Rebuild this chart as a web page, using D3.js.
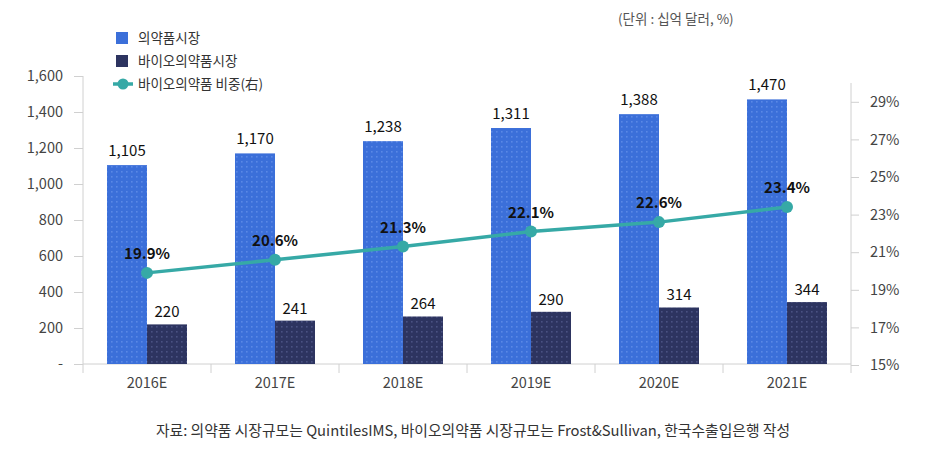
<!doctype html>
<html>
  <head>
    <meta charset="utf-8">
    <title>의약품시장 vs 바이오의약품시장</title>
    <script src="https://cdnjs.cloudflare.com/ajax/libs/d3/7.8.5/d3.min.js"></script>
    <style>
      body { margin:0; background:#fff; }
      text { font-family:"Noto Sans CJK KR","Noto Sans",sans-serif; }
    </style>
  </head>
  <body>
    <div id="root"></div>
    <script>
      // data
      let years = ['2016E','2017E','2018E','2019E','2020E','2021E'];
      let pharma = [1105,1170,1238,1311,1388,1470];
      let bio = [220,241,264,290,314,344];
      let share = [19.9,20.6,21.3,22.1,22.6,23.4];
      let leftTicks = [0,200,400,600,800,1000,1200,1400,1600];
      let rightTicks = [15,17,19,21,23,25,27,29];
      let legendNames = ['의약품시장','바이오의약품시장','바이오의약품 비중(右)'];

      let width = 930, height = 466,
      colBlue = '#3b6fd9', colNavy = '#2d3460', colTeal = '#36a9a6',
      axisCol = '#d0d0d0', textCol = '#444';

      let svg = d3.select('#root')
        .append('svg')
        .attr('width',width)
        .attr('height',height);

      //dotted fills
      let defs = svg.append('defs');
      function dots(id,base,dot){
        let p = defs.append('pattern')
          .attr('id',id)
          .attr('width',5).attr('height',5)
          .attr('patternUnits','userSpaceOnUse');
        p.append('rect').attr('width',5).attr('height',5).attr('fill',base);
        p.append('rect').attr('x',1).attr('y',1).attr('width',1.6).attr('height',1.6).attr('fill',dot);
      }
      dots('dotBlue',colBlue,'#5a88e6');
      dots('dotNavy',colNavy,'#4a5282');

      //scales
      let xScale = d3.scaleBand().domain(years).range([83,851]);
      let yScale = d3.scaleLinear().domain([0,1600]).range([364,76]);
      let rScale = d3.scaleLinear().domain([15,30]).range([365,83]);
      let barW = 40;

      //left axis
      let yAxis = svg.append('g')
        .attr('transform','translate(83,0)')
        .call(d3.axisLeft(yScale).tickValues(leftTicks).tickSize(9).tickPadding(11)
          .tickFormat(d => d === 0 ? '-' : d3.format(',')(d)));
      yAxis.select('.domain').attr('d','M0,76V373');

      //right axis
      let rAxis = svg.append('g')
        .attr('transform','translate(851,0)')
        .call(d3.axisRight(rScale).tickValues(rightTicks).tickSize(8).tickPadding(11)
          .tickFormat(d => d + '%'));
      rAxis.select('.domain').attr('d','M0,83V373');

      //bottom axis, ticks at category edges
      let xAxis = svg.append('g')
        .attr('transform','translate(0,364)')
        .call(d3.axisBottom(xScale).tickSize(0).tickPadding(14));
      xAxis.select('.domain').attr('d','M83,0H851');
      xAxis.selectAll('.edge')
        .data(years.slice(1))
        .enter()
        .append('line')
        .attr('x1',d => xScale(d)).attr('x2',d => xScale(d))
        .attr('y1',0).attr('y2',9);

      svg.selectAll('.domain, .tick line, g line').attr('stroke',axisCol);
      svg.selectAll('.tick text')
        .attr('font-size',14.5)
        .attr('fill',textCol);

      let cx = d => xScale(d) + xScale.bandwidth()/2;

      //bars
      svg.selectAll('.pharma')
        .data(years)
        .enter()
        .append('rect')
        .attr('x',d => cx(d) - barW)
        .attr('y',(d,i) => yScale(pharma[i]))
        .attr('width',barW)
        .attr('height',(d,i) => yScale(0) - yScale(pharma[i]))
        .attr('fill','url(#dotBlue)');

      svg.selectAll('.bio')
        .data(years)
        .enter()
        .append('rect')
        .attr('x',d => cx(d))
        .attr('y',(d,i) => yScale(bio[i]))
        .attr('width',barW)
        .attr('height',(d,i) => yScale(0) - yScale(bio[i]))
        .attr('fill','url(#dotNavy)');

      //bar labels
      svg.selectAll('.plabel')
        .data(years)
        .enter()
        .append('text')
        .attr('x',d => cx(d) - barW/2)
        .attr('y',(d,i) => yScale(pharma[i]) - 9)
        .attr('text-anchor','middle')
        .attr('font-size',15)
        .attr('fill','#111')
        .text((d,i) => d3.format(',')(pharma[i]));

      svg.selectAll('.blabel')
        .data(years)
        .enter()
        .append('text')
        .attr('x',d => cx(d) + barW/2)
        .attr('y',(d,i) => yScale(bio[i]) - 7)
        .attr('text-anchor','middle')
        .attr('font-size',15)
        .attr('fill','#111')
        .text((d,i) => bio[i]);

      //share line
      let line = d3.line()
        .x(d => cx(d))
        .y((d,i) => rScale(share[i]));
      svg.append('path')
        .datum(years)
        .attr('d',line)
        .attr('fill','none')
        .attr('stroke',colTeal)
        .attr('stroke-width',3.5);

      svg.selectAll('.pt')
        .data(years)
        .enter()
        .append('circle')
        .attr('cx',d => cx(d))
        .attr('cy',(d,i) => rScale(share[i]))
        .attr('r',6)
        .attr('fill',colTeal);

      svg.selectAll('.slabel')
        .data(years)
        .enter()
        .append('text')
        .attr('x',d => cx(d))
        .attr('y',(d,i) => rScale(share[i]) - 14)
        .attr('text-anchor','middle')
        .attr('font-size',15)
        .attr('font-weight','bold')
        .attr('fill','#111')
        .text((d,i) => share[i].toFixed(1) + '%');

      //legend
      let legend = svg.append('g');
      legend.append('rect').attr('x',116).attr('y',32).attr('width',12).attr('height',12).attr('fill',colBlue);
      legend.append('rect').attr('x',116).attr('y',55).attr('width',12).attr('height',12).attr('fill',colNavy);
      legend.append('line').attr('x1',113).attr('x2',133).attr('y1',84).attr('y2',84)
        .attr('stroke',colTeal).attr('stroke-width',3.5);
      legend.append('circle').attr('cx',123).attr('cy',84).attr('r',5.5).attr('fill',colTeal);
      legend.selectAll('.ltext')
        .data(legendNames)
        .enter()
        .append('text')
        .attr('x',138)
        .attr('y',(d,i) => 43 + i*23)
        .attr('font-size',13.5)
        .attr('fill','#333')
        .text(d => d);

      //unit
      svg.append('text')
        .attr('x',618).attr('y',24)
        .attr('font-size',13.5)
        .attr('fill','#555')
        .text('(단위 : 십억 달러, %)');

      //source
      svg.append('text')
        .attr('x',473).attr('y',436)
        .attr('text-anchor','middle')
        .attr('font-size',14.8)
        .attr('fill','#333')
        .text('자료: 의약품 시장규모는 QuintilesIMS, 바이오의약품 시장규모는 Frost&Sullivan, 한국수출입은행 작성');
    </script>
  </body>
</html>
